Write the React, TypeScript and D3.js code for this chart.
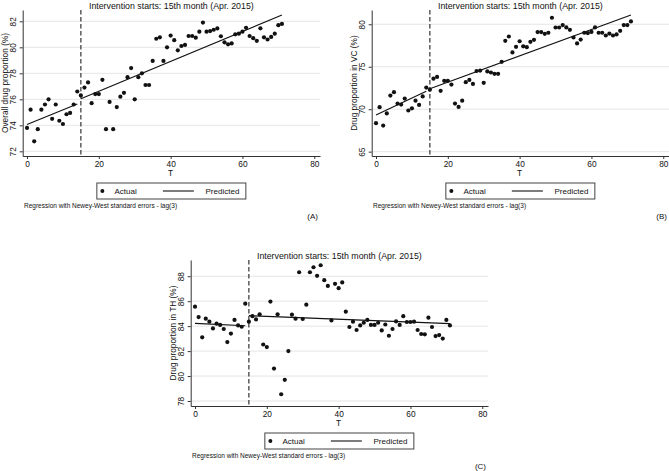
import React, { useEffect, useRef } from 'react';
import * as d3 from 'd3';

const W = 669;
const H = 471;
const FONT = 'Liberation Sans, Arial, Helvetica, sans-serif';

const xTicks = [0, 20, 40, 60, 80];
const interventionMonth = 15;
const titleText = 'Intervention starts: 15th month (Apr. 2015)';
const noteText = 'Regression with Newey-West standard errors - lag(3)';

// monthly proportions, T = 0..71
const overallActual = [
  73.8, 75.2, 72.77, 73.7, 75.2, 75.6, 76.0, 74.5, 75.6, 74.35, 74.1, 74.85, 74.95, 75.6, 76.6,
  76.3, 76.9, 77.3, 75.7, 76.4, 76.4, 77.5, 73.7, 75.8, 73.7, 75.4, 76.2, 76.5, 77.7, 78.4,
  76.0, 77.7, 78.0, 77.1, 77.1, 78.95, 80.66, 80.77, 78.95, 80.0, 80.9, 80.55, 79.77, 80.1, 80.18,
  80.87, 80.87, 80.74, 81.2, 81.9, 81.2, 81.25, 81.35, 81.45, 80.85, 80.38, 80.23, 80.3, 81.0, 81.05,
  81.2, 81.5, 80.87, 80.7, 80.5, 81.46, 80.77, 80.6, 80.8, 81.05, 81.7, 81.8,
];
const vcActual = [
  68.35, 70.24, 68.07, 69.5, 71.6, 72.0, 70.66, 70.55, 71.25, 69.85, 70.1, 71.0, 70.5, 71.5, 72.55,
  72.3, 73.6, 73.8, 72.16, 73.34, 73.34, 72.9, 70.66, 70.27, 71.0, 73.18, 73.45, 72.98, 74.5, 74.55,
  73.1, 74.45, 74.32, 74.16, 74.16, 75.58, 78.05, 78.56, 76.68, 77.35, 78.0, 77.4, 77.3, 77.93, 78.17,
  79.08, 79.08, 78.88, 79.0, 80.77, 79.62, 79.62, 79.9, 79.63, 79.35, 78.44, 77.74, 78.2, 79.0, 78.96,
  79.1, 79.63, 79.0, 79.0, 78.68, 78.9, 78.68, 78.8, 79.23, 79.9, 79.9, 80.33,
];
const thActual = [
  85.56, 84.73, 83.1, 84.6, 84.36, 83.82, 84.2, 84.1, 83.77, 82.72, 83.4, 84.5, 84.06, 83.95, 85.8,
  84.36, 84.8, 84.54, 84.95, 82.53, 82.32, 85.97, 80.6, 84.95, 78.54, 79.7, 82.0, 84.92, 84.6, 88.32,
  84.57, 85.72, 88.32, 88.72, 88.03, 88.88, 87.68, 87.22, 84.46, 87.39, 87.04, 87.5, 85.16, 83.93, 84.36,
  83.69, 84.06, 84.27, 84.5, 84.1, 84.1, 84.27, 83.66, 84.13, 83.23, 83.77, 84.38, 84.1, 84.8, 84.33,
  84.33, 84.36, 83.69, 83.37, 83.34, 84.68, 83.93, 83.2, 83.28, 83.0, 84.5, 84.06,
];

// fitted segments before / after the intervention: [t0, value0, t1, value1]
const overallPredicted = [[0, 74.07, 14, 75.64], [15, 76.05, 71, 82.48]];
const vcPredicted = [[0, 69.33, 14, 72.1], [15, 72.4, 71, 81.1]];
const thPredicted = [[0, 84.22, 14, 84.03], [15, 84.84, 71, 84.2]];

const overallTicks = [72, 74, 76, 78, 80, 82];
const vcTicks = [65, 70, 75, 80];
const thTicks = [78, 80, 82, 84, 86, 88];

const panels = [
  { key: 'A', actual: overallActual, predicted: overallPredicted, yTicks: overallTicks, yDomain: [71.64, 82.87], yTitle: 'Overall drug proportion (%)', offset: [0, 0] },
  { key: 'B', actual: vcActual, predicted: vcPredicted, yTicks: vcTicks, yDomain: [64.49, 81.68], yTitle: 'Drug proportion in VC (%)', offset: [349, 0] },
  { key: 'C', actual: thActual, predicted: thPredicted, yTicks: thTicks, yDomain: [77.6, 89.3], yTitle: 'Drug proportion in TH (%)', offset: [168, 250] },
];

const plot = { left: 22.7, right: 320, top: 10, bottom: 156 };

function drawPanel(svg, p) {
  const g = svg.append('g')
    .attr('transform', `translate(${p.offset[0]},${p.offset[1]})`)
    .attr('font-family', FONT)
    .attr('fill', '#111');

  const x = d3.scaleLinear().domain([-1.2, 81.6]).range([plot.left, plot.right]);
  const y = d3.scaleLinear().domain(p.yDomain).range([plot.bottom, plot.top]);

  // grid
  g.append('g')
    .selectAll('line')
    .data(p.yTicks)
    .join('line')
    .attr('x1', plot.left)
    .attr('x2', plot.right)
    .attr('y1', d => y(d))
    .attr('y2', d => y(d))
    .attr('stroke', '#e2e2e2')
    .attr('stroke-width', 0.9);

  // y axis, labels turned on their side
  const yAxis = g.append('g')
    .attr('transform', `translate(${plot.left},0)`)
    .call(d3.axisLeft(y).tickValues(p.yTicks).tickSize(3).tickSizeOuter(0).tickFormat(d3.format('d')));
  yAxis.select('.domain').attr('stroke', '#333');
  yAxis.selectAll('.tick line').attr('stroke', '#333');
  yAxis.selectAll('.tick text')
    .attr('transform', 'rotate(-90)')
    .attr('x', 0)
    .attr('y', -6.3)
    .attr('dy', 0)
    .attr('text-anchor', 'middle')
    .attr('font-size', 8.3)
    .attr('font-family', FONT)
    .attr('fill', '#111');

  // x axis
  const xAxis = g.append('g')
    .attr('transform', `translate(0,${plot.bottom})`)
    .call(d3.axisBottom(x).tickValues(xTicks).tickSize(3).tickSizeOuter(0).tickFormat(d3.format('d')));
  xAxis.select('.domain').attr('stroke', '#333');
  xAxis.selectAll('.tick line').attr('stroke', '#333');
  xAxis.selectAll('.tick text')
    .attr('y', 10.5)
    .attr('dy', 0)
    .attr('font-size', 8.3)
    .attr('font-family', FONT)
    .attr('fill', '#111');

  // intervention marker
  g.append('line')
    .attr('x1', x(interventionMonth))
    .attr('x2', x(interventionMonth))
    .attr('y1', plot.top)
    .attr('y2', plot.bottom)
    .attr('stroke', '#333')
    .attr('stroke-width', 1.2)
    .attr('stroke-dasharray', '4.5,2.5');

  // fitted lines
  g.append('g')
    .selectAll('line')
    .data(p.predicted)
    .join('line')
    .attr('x1', d => x(d[0]))
    .attr('y1', d => y(d[1]))
    .attr('x2', d => x(d[2]))
    .attr('y2', d => y(d[3]))
    .attr('stroke', '#111')
    .attr('stroke-width', 1.1);

  // observed points
  g.append('g')
    .selectAll('circle')
    .data(p.actual)
    .join('circle')
    .attr('cx', (d, i) => x(i))
    .attr('cy', d => y(d))
    .attr('r', 2.1)
    .attr('fill', '#111');

  const cx = (plot.left + plot.right) / 2;

  g.append('text')
    .attr('x', cx)
    .attr('y', 8.5)
    .attr('text-anchor', 'middle')
    .attr('font-size', 8.8)
    .text(titleText);

  g.append('text')
    .attr('transform', `translate(${plot.left - 15},${(plot.top + plot.bottom) / 2}) rotate(-90)`)
    .attr('text-anchor', 'middle')
    .attr('font-size', 8.3)
    .text(p.yTitle);

  g.append('text')
    .attr('x', x(40))
    .attr('y', 176)
    .attr('text-anchor', 'middle')
    .attr('font-size', 8.3)
    .text('T');

  // legend
  const lg = g.append('g').attr('transform', `translate(${cx - 74.5},183)`);
  lg.append('rect')
    .attr('width', 149)
    .attr('height', 16)
    .attr('fill', 'white')
    .attr('stroke', '#444')
    .attr('stroke-width', 1);
  lg.append('circle').attr('cx', 5.5).attr('cy', 8).attr('r', 2).attr('fill', '#111');
  lg.append('text').attr('x', 17.7).attr('y', 11).attr('font-size', 8).text('Actual');
  lg.append('line')
    .attr('x1', 66).attr('x2', 97).attr('y1', 8).attr('y2', 8)
    .attr('stroke', '#111').attr('stroke-width', 1.1);
  lg.append('text').attr('x', 108.7).attr('y', 11).attr('font-size', 8).text('Predicted');

  g.append('text')
    .attr('x', 24)
    .attr('y', 207.5)
    .attr('font-size', 6.5)
    .text(noteText);

  g.append('text')
    .attr('x', 318)
    .attr('y', 219)
    .attr('text-anchor', 'end')
    .attr('font-size', 8)
    .text(`(${p.key})`);
}

export default function App() {
  const ref = useRef(null);

  useEffect(() => {
    const svg = d3.select(ref.current);
    svg.selectAll('*').remove();
    svg.append('rect').attr('width', W).attr('height', H).attr('fill', 'white');
    panels.forEach(p => drawPanel(svg, p));
  }, []);

  return (
    <div style={{ position: 'absolute', left: 0, top: 0 }}>
      <svg ref={ref} width={W} height={H} style={{ display: 'block' }} />
    </div>
  );
}
